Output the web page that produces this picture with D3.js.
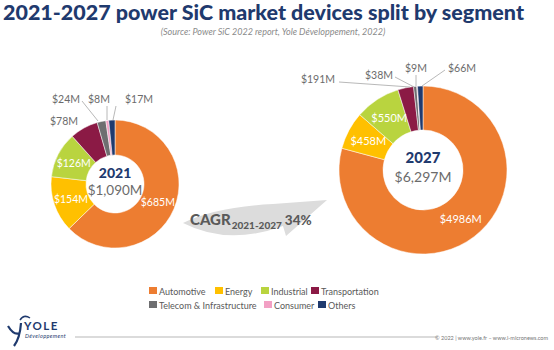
<!DOCTYPE html>
<html><head><meta charset="utf-8">
<script src="https://cdn.jsdelivr.net/npm/d3@7"></script>
<style>
body{margin:0;background:#fff;}
svg{display:block;font-family:Lato, "Open Sans", sans-serif;}
</style></head>
<body>
<svg id="chart" width="554" height="350"></svg>
<script>
const segments = ["Automotive","Energy","Industrial","Transportation","Telecom & Infrastructure","Consumer","Others"];
const segmentColors = ["#ED7D31","#FFC000","#B9D43F","#8B1A45","#6E6E70","#F2A0C4","#1F3A6E"];
const values2021 = [685,154,126,78,24,8,17];
const values2027 = [4986,458,550,191,38,9,66];
const labels2021 = ["$685M","$154M","$126M","$78M","$24M","$8M","$17M"];
const labels2027 = ["$4986M","$458M","$550M","$191M","$38M","$9M","$66M"];
const years = ["2021","2027"];
const totals = ["$1,090M","$6,297M"];
const cagrText = ["CAGR","2021-2027","34%"];

const svg = d3.select("#chart");
const navy = "#1F3A6E";

// Title
svg.append("text").attr("x",3).attr("y",20).attr("textLength",521).attr("lengthAdjust","spacingAndGlyphs")
  .attr("font-size",20).attr("font-weight",900).attr("fill",navy)
  .text("2021-2027 power SiC market devices split by segment");
svg.append("text").attr("x",273).attr("y",35).attr("text-anchor","middle")
  .attr("font-size",9).attr("font-style","italic").attr("fill","#8a8a8a")
  .text("(Source: Power SiC 2022 report, Yole Développement, 2022)");

// CAGR arrow
svg.append("path")
  .attr("d","M183,223 Q215,207 273,204 L327,200 L286,236 L283,226 Q228,246 183,223 Z")
  .attr("fill","#dcdcdc");
const cg = svg.append("text").attr("x",190).attr("y",225).attr("fill","#5a5a5a").attr("font-weight",900);
cg.append("tspan").attr("font-size",15).text(cagrText[0]);
cg.append("tspan").attr("font-size",10).attr("dy",4).attr("dx",1).text(cagrText[1]);
cg.append("tspan").attr("font-size",13.5).attr("dy",-4).attr("dx",3).text(cagrText[2]);

// Donut config (layout only)
const donuts = [
  {cx:115, cy:184, ro:64, ri:29, values:values2021, labels:labels2021, year:years[0], total:totals[0],
   yearY:-6, totY:11, fs:14, tfs:13.5,
   outside:{3:{x:-37,y:-59,anchor:"end"},4:{x:-35,y:-81,anchor:"end",line:[[-33,-83],[-17,-63]]},
            5:{x:-16,y:-81,anchor:"middle",line:[[-8,-78],[-8,-64]]},6:{x:10,y:-81,anchor:"start",line:[[1,-78],[-2,-64]]}}},
  {cx:423, cy:170, ro:84, ri:40, values:values2027, labels:labels2027, year:years[1], total:totals[1],
   yearY:-7, totY:12, fs:15, tfs:14,
   outside:{3:{x:-88,y:-87,anchor:"end",line:[[-84,-88],[-13,-83]]},4:{x:-30,y:-91,anchor:"end",line:[[-28,-93],[-9,-83]]},
            5:{x:-7,y:-98,anchor:"middle",line:[[-7,-95],[-7,-84]]},6:{x:25,y:-98,anchor:"start",line:[[22,-100],[-1,-84]]}}}
];

const pie = d3.pie().sort(null).value(d=>d);
donuts.forEach(dn=>{
  const g = svg.append("g").attr("transform",`translate(${dn.cx},${dn.cy})`);
  const arc = d3.arc().innerRadius(dn.ri).outerRadius(dn.ro);
  const arcs = pie(dn.values);
  g.selectAll("path.slice").data(arcs).enter().append("path").attr("class","slice")
    .attr("d",arc).attr("fill",(d,i)=>segmentColors[i]).attr("stroke","#fff").attr("stroke-width",0.5);
  arcs.forEach((a,i)=>{
    const o = dn.outside[i];
    if(!o){
      const c = arc.centroid(a);
      g.append("text").attr("x",c[0]).attr("y",c[1]+4).attr("text-anchor","middle")
        .attr("font-size",dn.ro>70?11:10.5).attr("fill","#fff").text(dn.labels[i]);
    } else {
      if(o.line) g.append("line").attr("x1",o.line[0][0]).attr("y1",o.line[0][1]).attr("x2",o.line[1][0]).attr("y2",o.line[1][1])
        .attr("stroke","#a6a6a6").attr("stroke-width",0.8);
      g.append("text").attr("x",o.x).attr("y",o.y).attr("text-anchor",o.anchor)
        .attr("font-size",10.5).attr("fill","#6b6b6b").text(dn.labels[i]);
    }
  });
  g.append("text").attr("y",dn.yearY).attr("text-anchor","middle").attr("font-size",dn.fs)
    .attr("font-weight",900).attr("fill",navy).text(dn.year);
  g.append("text").attr("y",dn.totY).attr("text-anchor","middle").attr("font-size",dn.tfs)
    .attr("fill","#6b6b6b").text(dn.total);
});

// Legend
const legendRows = [[0,1,2,3],[4,5,6]];
const legendX = [[149,215,261,311],[149,264,318]];
const legendY = [291,305];
legendRows.forEach((row,r)=>{
  row.forEach((idx,k)=>{
    svg.append("rect").attr("x",legendX[r][k]).attr("y",legendY[r]-4).attr("width",8).attr("height",7)
      .attr("fill",segmentColors[idx]);
    svg.append("text").attr("x",legendX[r][k]+10).attr("y",legendY[r]+3.5).attr("font-size",9)
      .attr("fill","#595959").text(segments[idx]);
  });
});

// Footer
svg.append("line").attr("x1",75).attr("x2",438).attr("y1",337).attr("y2",337).attr("stroke","#cfcfcf").attr("stroke-width",1.5);
svg.append("text").attr("x",548).attr("y",339.5).attr("text-anchor","end").attr("font-size",5.5).attr("fill","#777")
  .text("© 2022 | www.yole.fr – www.i-micronews.com");
// Logo
svg.append("path").attr("d","M8,326 Q14,336 20,333 M21,323 Q20,338 14,346").attr("stroke",navy).attr("stroke-width",2.2).attr("fill","none");
svg.append("path").attr("d","M20,320 Q24,314 30,318").attr("stroke",navy).attr("stroke-width",1.5).attr("fill","none");
svg.append("text").attr("x",24).attr("y",330).attr("font-size",11.5).attr("font-weight",700).attr("letter-spacing",1.5)
  .attr("fill",navy).text("YOLE");
svg.append("text").attr("x",25).attr("y",338).attr("font-size",5.5).attr("font-style","italic").attr("letter-spacing",0.4)
  .attr("fill",navy).text("Développement");
</script>
</body></html>
